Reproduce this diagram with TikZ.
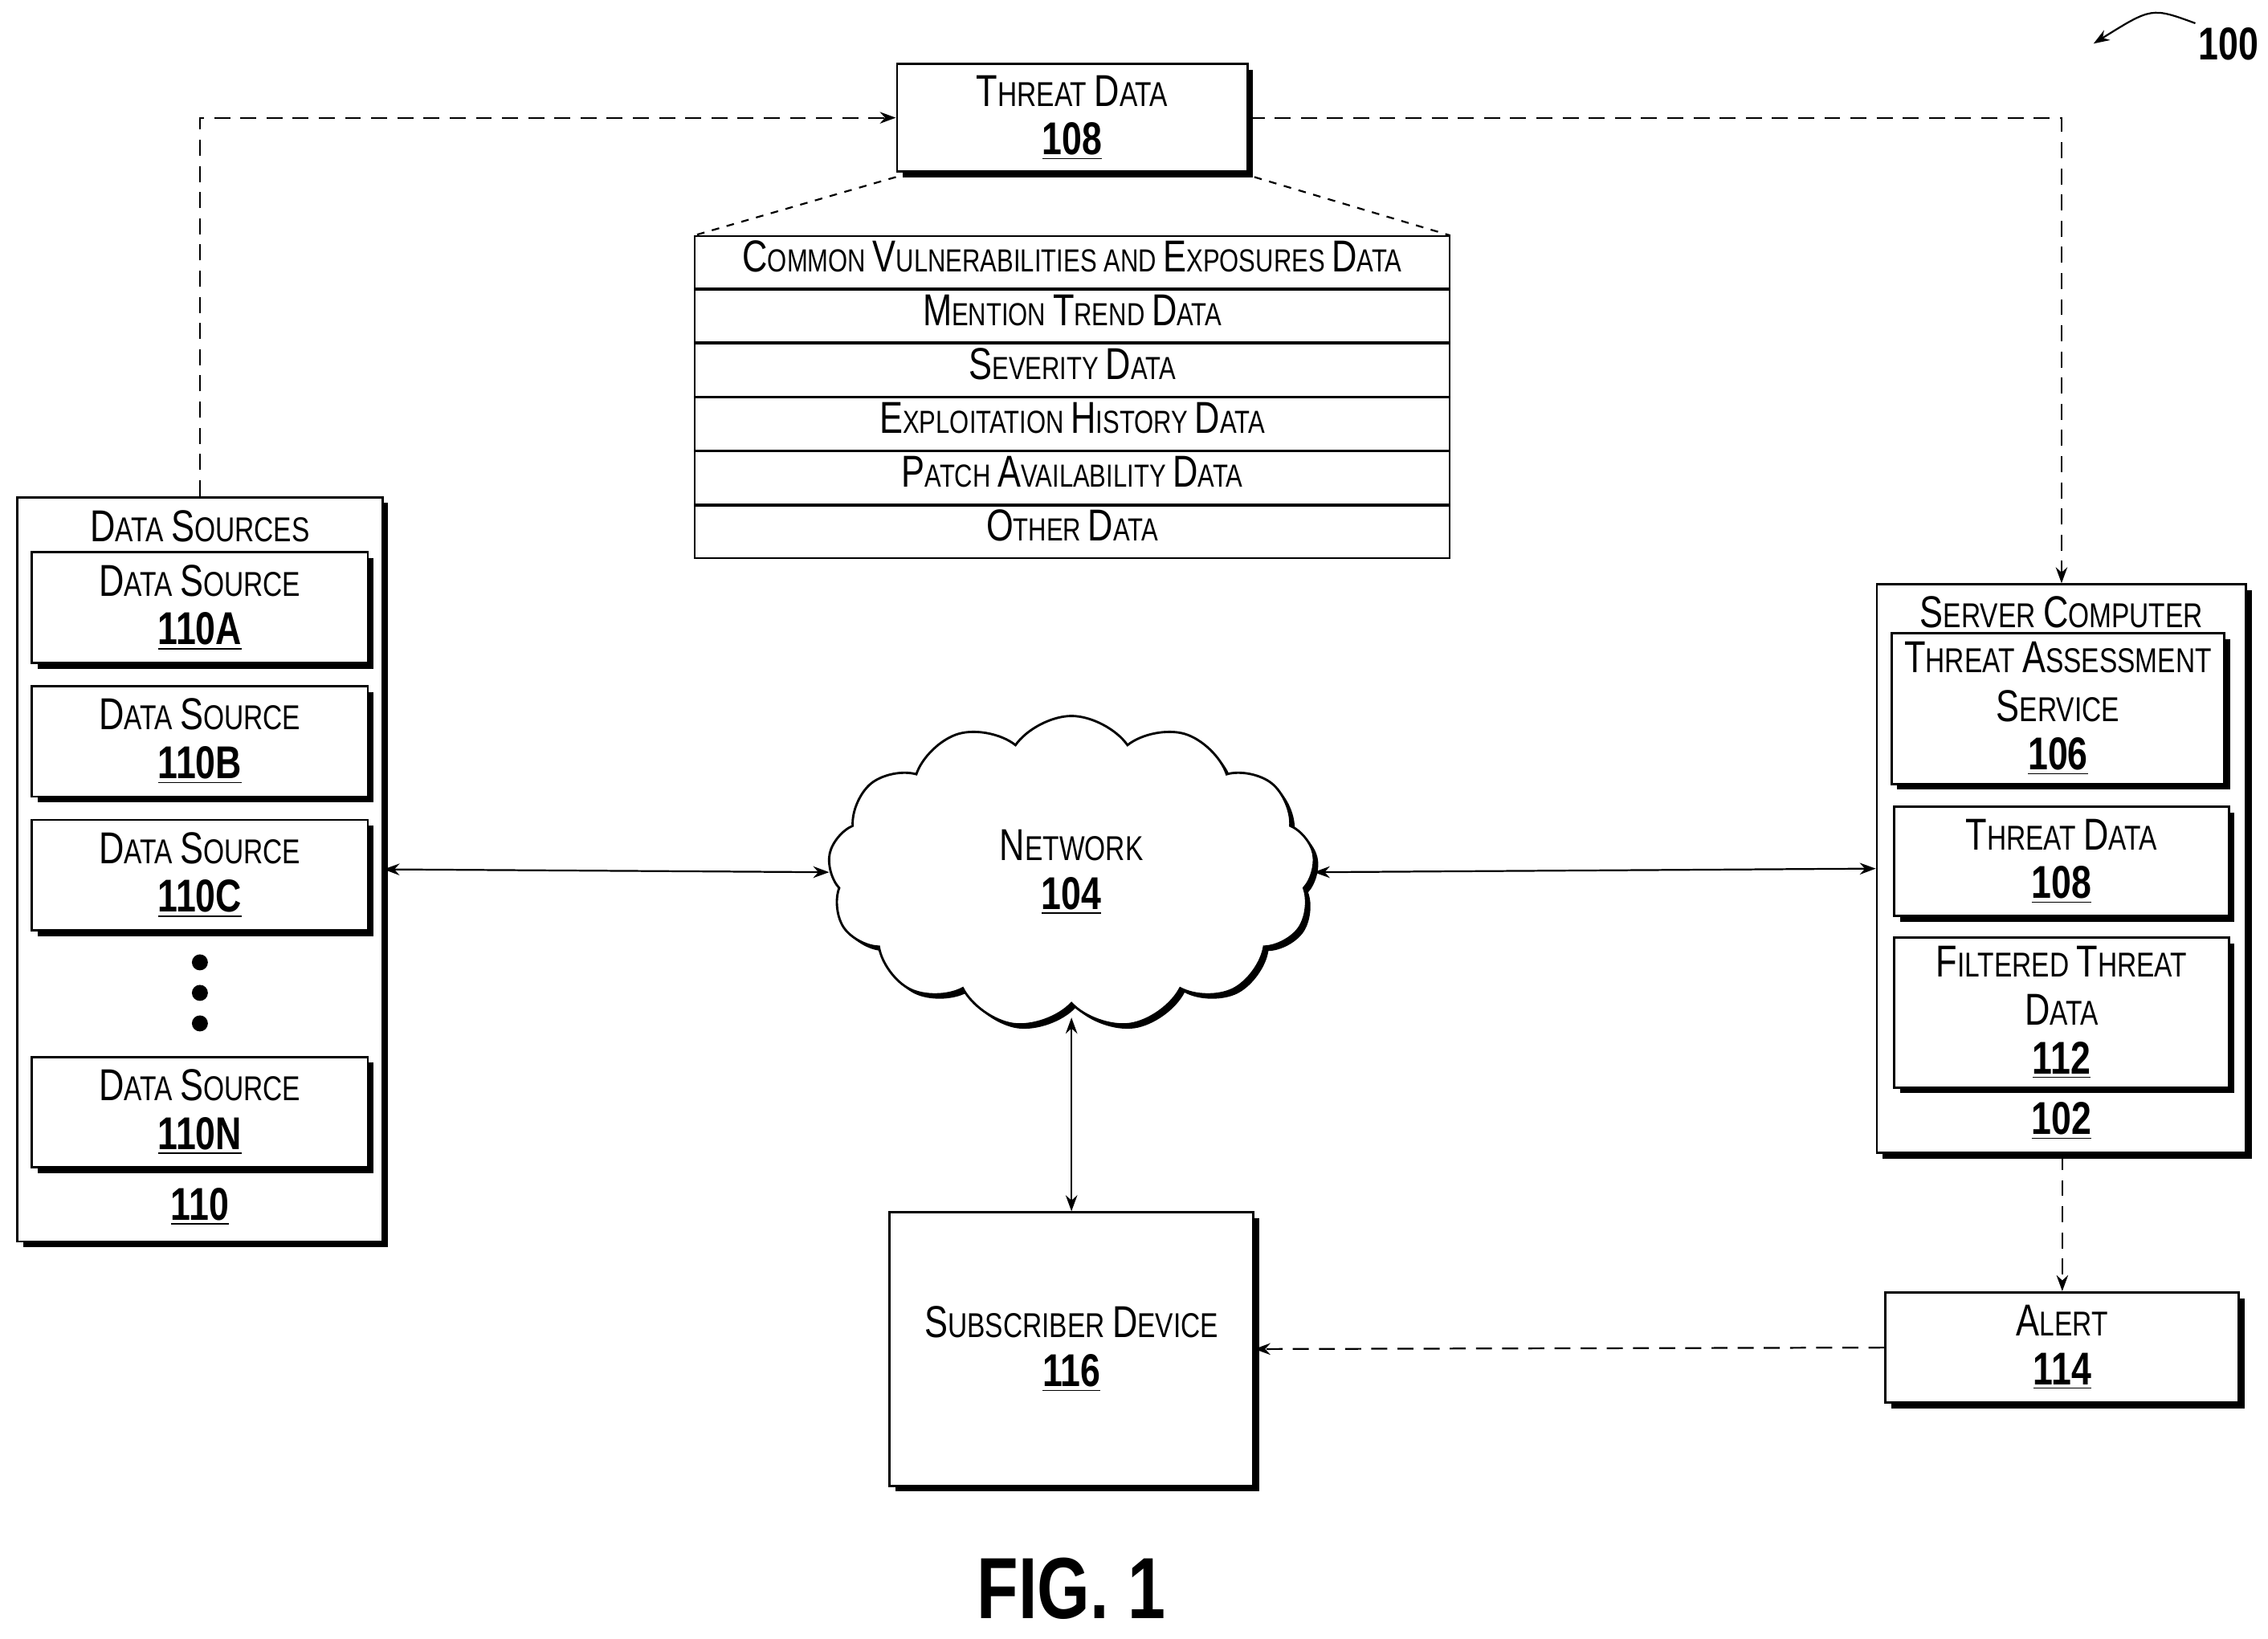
\documentclass[tikz,border=0pt]{standalone}
\usepackage{fontspec}
\setmainfont{Liberation Sans}[FakeStretch=0.78]
\usetikzlibrary{positioning,shapes.symbols,shadows,arrows.meta}
\newcommand\capl[1]{{\fontsize{17.5}{19}\selectfont #1}}
\newcommand\refn[1]{{\fontsize{18}{19}\selectfont\bfseries\underline{#1}}}
\begin{document}
\begin{tikzpicture}[x=0.2mm,y=-0.2mm,
	every node/.style={font=\fontsize{13.5}{19}\selectfont,align=center},
	box/.style={rectangle,draw=black,fill=white,line width=0.9pt,
		drop shadow={opacity=1,fill=black,shadow xshift=0.8mm,shadow yshift=-0.8mm}},
	row/.style={rectangle,draw=black,line width=0.6pt,minimum width=103.8mm,
		minimum height=7.2mm,text height=3.2mm,text depth=0.6mm,inner sep=0pt,
		font=\fontsize{12.5}{16}\selectfont},
	src/.style={box,minimum width=46.2mm,minimum height=15.2mm},
	link/.style={{Stealth[length=2.2mm,width=1.6mm]}-{Stealth[length=2.2mm,width=1.6mm]},line width=0.7pt},
	dlink/.style={-{Stealth[length=2.2mm,width=1.6mm]},line width=0.7pt,dash pattern=on 2.2mm off 1.4mm}]

	\useasboundingbox (0,0) rectangle (1560,1127);

	% threat data and its contents
	\node[box,minimum width=48.2mm,minimum height=14.8mm] (threat) at (737.5,81)
		{\capl{T}HREAT \capl{D}ATA\\\refn{108}};
	\node[row] (row1) at (737.5,180.5) {\capl{C}OMMON \capl{V}ULNERABILITIES AND \capl{E}XPOSURES \capl{D}ATA};
	\node[row,below=0 of row1] (row2) {\capl{M}ENTION \capl{T}REND \capl{D}ATA};
	\node[row,below=0 of row2] (row3) {\capl{S}EVERITY \capl{D}ATA};
	\node[row,below=0 of row3] (row4) {\capl{E}XPLOITATION \capl{H}ISTORY \capl{D}ATA};
	\node[row,below=0 of row4] (row5) {\capl{P}ATCH \capl{A}VAILABILITY \capl{D}ATA};
	\node[row,below=0 of row5] (row6) {\capl{O}THER \capl{D}ATA};
	\draw[dashed,line width=0.7pt] ([yshift=-0.6mm]threat.south west) -- (row1.north west);
	\draw[dashed,line width=0.7pt] ([xshift=0.8mm,yshift=-0.6mm]threat.south east) -- (row1.north east);

	% data sources
	\node[box,minimum width=50.2mm,minimum height=102.4mm] (sources) at (137.5,598) {};
	\node (sources-t) at (137.5,362) {\capl{D}ATA \capl{S}OURCES};
	\node[src] (srcA) at (137.5,418) {\capl{D}ATA \capl{S}OURCE\\\refn{110A}};
	\node[src] (srcB) at (137.5,510) {\capl{D}ATA \capl{S}OURCE\\\refn{110B}};
	\node[src] (srcC) at (137.5,602) {\capl{D}ATA \capl{S}OURCE\\\refn{110C}};
	\node[src] (srcN) at (137.5,765) {\capl{D}ATA \capl{S}OURCE\\\refn{110N}};
	\foreach \y in {662,683,704}
		\fill (137.5,\y) circle (1.1mm);
	\node (sources-n) at (137.5,830) {\refn{110}};

	% server computer
	\node[box,minimum width=50.8mm,minimum height=78.2mm] (server) at (1418,597.5) {};
	\node (server-t) at (1418,421) {\capl{S}ERVER \capl{C}OMPUTER};
	\node[box,minimum width=45.8mm,minimum height=20.2mm] (tas) at (1415.5,487.5)
		{\capl{T}HREAT \capl{A}SSESSMENT\\\capl{S}ERVICE\\\refn{106}};
	\node[box,minimum width=46mm,minimum height=15mm] (threat2) at (1418,592.5)
		{\capl{T}HREAT \capl{D}ATA\\\refn{108}};
	\node[box,minimum width=46mm,minimum height=19.8mm] (filtered) at (1418,696.5)
		{\capl{F}ILTERED \capl{T}HREAT\\\capl{D}ATA\\\refn{112}};
	\node (server-n) at (1418,771) {\refn{102}};

	% network, subscriber, alert
	\node[cloud,draw,fill=white,line width=0.9pt,cloud puffs=13,cloud puff arc=110,
		aspect=1.6,minimum width=67mm,minimum height=43mm,
		drop shadow={opacity=1,fill=black,shadow xshift=0.6mm,shadow yshift=-0.6mm}]
		(network) at (737,600) {\capl{N}ETWORK\\\refn{104}};
	\node[box,minimum width=50mm,minimum height=37.6mm] (subscriber) at (737,928)
		{\capl{S}UBSCRIBER \capl{D}EVICE\\\refn{116}};
	\node[box,minimum width=48.6mm,minimum height=15.2mm] (alert) at (1418.5,927)
		{\capl{A}LERT\\\refn{114}};

	% connectors
	\coordinate (c1) at (137.5,81);
	\coordinate (c2) at (1418,81);
	\coordinate (nb) at (737,700);
	\draw[dlink] (sources.north) -- (c1) -- (threat.west);
	\draw[dlink] (threat.east) -- (c2) -- (server.north -| c2);
	\draw[link] (sources.east) -- (network.west);
	\draw[link] (network.east) -- (server.west);
	\draw[link] (nb) -- (subscriber.north);
	\draw[dlink] (server.south -| alert) -- (alert.north);
	\draw[dlink] (alert.west) -- (subscriber.east);

	% figure label
	\node[font=\fontsize{34}{38}\selectfont\bfseries] (fig) at (737,1093) {FIG. 1};
	\node[font=\fontsize{18}{20}\selectfont\bfseries] (ref100) at (1533,30) {100};
	\coordinate (r1) at (1510,16);
	\coordinate (r2) at (1440,30);
	\draw[dlink,solid] (r1) .. controls (1480,5) .. (r2);
\end{tikzpicture}
\end{document}
